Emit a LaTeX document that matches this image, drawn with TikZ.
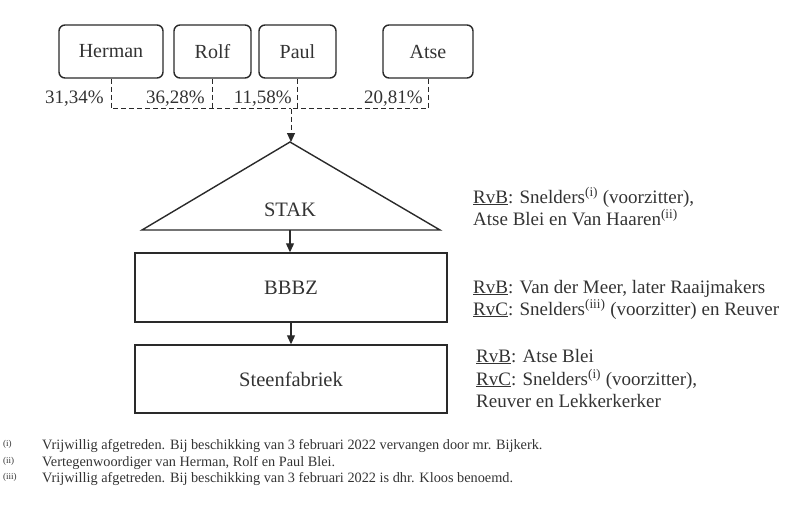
\documentclass[tikz,border=0pt]{standalone}
\usepackage{fontspec}
\setmainfont{Liberation Serif}
\usetikzlibrary{arrows.meta}
\definecolor{ink}{HTML}{2A2A2A}
\definecolor{txt}{HTML}{333333}
\begin{document}
\begin{tikzpicture}[x=1pt,y=-1pt,
  person/.style={draw=ink,line width=1.4pt,rounded corners=6pt,minimum height=53pt,inner sep=0pt,text=txt,font=\fontsize{20}{24}\selectfont},
  entity/.style={draw=ink,line width=1.4pt,minimum width=312pt,inner sep=0pt,text=txt,font=\fontsize{20.5}{24}\selectfont},
  dashline/.style={draw=ink,line width=1pt,dash pattern=on 5pt off 3pt},
  mytip/.style={-{Triangle[length=9pt,width=8pt]}},
  pct/.style={anchor=base east,inner sep=0pt,text=txt,font=\fontsize{19}{22}\selectfont},
  side/.style={anchor=base west,inner sep=0pt,text=txt,font=\fontsize{19}{22}\selectfont},
  fnote/.style={anchor=base west,inner sep=0pt,text=txt,font=\fontsize{14.3}{17}\selectfont},
  fmark/.style={anchor=base west,inner sep=0pt,text=txt,font=\fontsize{9}{11}\selectfont},
]
\useasboundingbox (0,0) rectangle (800,522);
\newcommand{\sus}[1]{\textsuperscript{#1}}
% persons
\node[person,minimum width=104pt] (herman) at (111,51.5) {Herman};
\node[person,minimum width=77pt] (rolf) at (212.5,51.5) {Rolf};
\node[person,minimum width=77pt] (paul) at (297.5,51.5) {Paul};
\node[person,minimum width=90pt] (atse) at (428,51.5) {Atse};
\coordinate (j) at (291,108.5);
\draw[dashline] (herman.south) |- (j);
\draw[dashline] (atse.south) |- (j);
\draw[dashline] (rolf.south) -- (rolf.south |- j);
\draw[dashline] (paul.south) -- (paul.south |- j);
% percentages
\node[pct] (p1) at (104,103) {31,34\%};
\node[pct] (p2) at (205,103) {36,28\%};
\node[pct] (p3) at (292,103) {11,58\%};
\node[pct] (p4) at (423,103) {20,81\%};
% STAK triangle
\coordinate (apex) at (290,142);
\coordinate (tl) at (142,230);
\coordinate (tr) at (440,230);
\coordinate (stakbase) at (290,230);
\draw[ink,line width=1.4pt,line join=miter] (tl) -- (apex) -- (tr) -- cycle;
\node[text=txt,font=\fontsize{20.5}{24}\selectfont,inner sep=0pt] (stak) at (290,210) {STAK};
\draw[dashline,mytip] (j) -- (j |- apex);
% boxes
\node[entity,minimum height=69pt] (bbbz) at (291,287.5) {BBBZ};
\node[entity,minimum height=68pt] (steen) at (291,379) {Steenfabriek};
\draw[ink,line width=1.1pt,mytip] (stakbase) -- (stakbase |- bbbz.north);
\draw[ink,line width=1.1pt,mytip] (bbbz.south) -- (steen.north);
% side texts
\node[side] (s1) at (473,203) {\underline{RvB}: Snelders\sus{(i)} (voorzitter),};
\node[side] (s2) at (473,225) {Atse Blei en Van Haaren\sus{(ii)}};
\node[side] (s3) at (473,293) {\underline{RvB}: Van der Meer, later Raaijmakers};
\node[side] (s4) at (473,315) {\underline{RvC}: Snelders\sus{(iii)} (voorzitter) en Reuver};
\node[side] (s5) at (476,362) {\underline{RvB}: Atse Blei};
\node[side] (s6) at (476,385) {\underline{RvC}: Snelders\sus{(i)} (voorzitter),};
\node[side] (s7) at (476,407) {Reuver en Lekkerkerker};
% footnotes
\node[fmark] (m1) at (3,446) {(i)};
\node[fmark] (m2) at (3,463) {(ii)};
\node[fmark] (m3) at (3,479) {(iii)};
\node[fnote] (f1) at (42,449) {Vrijwillig afgetreden. Bij beschikking van 3 februari 2022 vervangen door mr. Bijkerk.};
\node[fnote] (f2) at (42,466) {Vertegenwoordiger van Herman, Rolf en Paul Blei.};
\node[fnote] (f3) at (42,482) {Vrijwillig afgetreden. Bij beschikking van 3 februari 2022 is dhr. Kloos benoemd.};
\end{tikzpicture}
\end{document}
